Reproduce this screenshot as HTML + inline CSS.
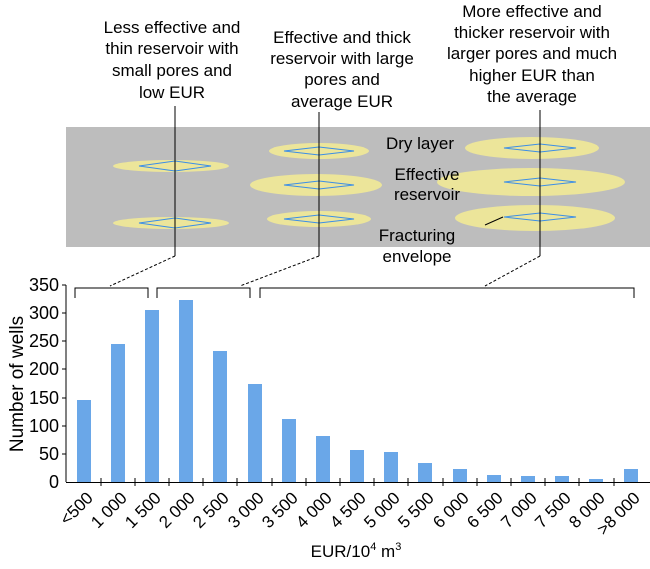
<!DOCTYPE html>
<html><head><style>body{margin:0;background:#fff}</style></head><body>
<svg width="650" height="564" xmlns="http://www.w3.org/2000/svg" font-family="Liberation Sans, Arial, sans-serif">
<rect x="66" y="127" width="584" height="120" fill="#bdbdbd"/>
<g fill="#ece59a">
<ellipse cx="171" cy="166" rx="58" ry="6"/><ellipse cx="171" cy="223" rx="58" ry="6"/>
<ellipse cx="319" cy="151" rx="50" ry="8"/><ellipse cx="316" cy="185" rx="66" ry="11"/><ellipse cx="319" cy="219" rx="52" ry="8"/>
<ellipse cx="532" cy="148" rx="67" ry="11"/><ellipse cx="531" cy="182" rx="94" ry="14"/><ellipse cx="535" cy="218" rx="80" ry="13"/>
</g>
<g fill="none" stroke="#3c8ee6" stroke-width="1">
<polygon points="139,166 175,161 211,166 175,171"/><polygon points="139,223 175,218 211,223 175,228"/>
<polygon points="284,151 319,147 354,151 319,155"/><polygon points="284,185 319,181 354,185 319,189"/><polygon points="284,219 319,215 354,219 319,223"/>
<polygon points="504,148 540,144 576,148 540,152"/><polygon points="504,182 540,178 576,182 540,186"/><polygon points="504,217 540,213 576,217 540,221"/>
</g>
<g stroke="#000" stroke-width="1" fill="none">
<line x1="175" y1="106" x2="175" y2="256"/><line x1="319" y1="112" x2="319" y2="256"/><line x1="540" y1="110" x2="540" y2="256"/>
<g stroke-dasharray="3,2"><line x1="175" y1="256" x2="110" y2="286"/><line x1="319" y1="256" x2="240" y2="286"/><line x1="540" y1="256" x2="485" y2="286"/></g>
<line x1="503" y1="217" x2="485" y2="225"/>
<polyline points="75,298 75,288 148,288 148,298"/><polyline points="157,298 157,288 250,288 250,298"/><polyline points="260,298 260,288 634,288 634,298"/>
</g>
<g font-size="17" fill="#000" text-anchor="middle">
<text x="172" y="33">Less effective and</text><text x="172" y="54">thin reservoir with</text><text x="172" y="76">small pores and</text><text x="172" y="98">low EUR</text>
<text x="342" y="43">Effective and thick</text><text x="342" y="64">reservoir with large</text><text x="342" y="85">pores and</text><text x="342" y="107">average EUR</text>
<text x="532" y="17">More effective and</text><text x="532" y="38">thicker reservoir with</text><text x="532" y="59">larger pores and much</text><text x="532" y="81">higher EUR than</text><text x="532" y="102">the average</text>
<text x="420" y="149">Dry layer</text><text x="427" y="180">Effective</text><text x="427" y="200">reservoir</text>
<text x="417" y="241">Fracturing</text><text x="417" y="262">envelope</text>
</g>
<g fill="#6aa7e8">
<rect x="77" y="400" width="14" height="82"/><rect x="111" y="344" width="14" height="138"/><rect x="145" y="310" width="14" height="172"/><rect x="179" y="300" width="14" height="182"/><rect x="213" y="351" width="14" height="131"/><rect x="248" y="384" width="14" height="98"/><rect x="282" y="419" width="14" height="63"/><rect x="316" y="436" width="14" height="46"/><rect x="350" y="450" width="14" height="32"/><rect x="384" y="452" width="14" height="30"/><rect x="418" y="463" width="14" height="19"/><rect x="453" y="469" width="14" height="13"/><rect x="487" y="475" width="14" height="7"/><rect x="521" y="476" width="14" height="6"/><rect x="555" y="476" width="14" height="6"/><rect x="589" y="479" width="14" height="3"/><rect x="624" y="469" width="14" height="13"/>
</g>
<g stroke="#000" stroke-width="1">
<line x1="66" y1="285" x2="66" y2="482"/><line x1="66" y1="482.5" x2="650" y2="482.5"/>
<line x1="62" y1="285" x2="66" y2="285"/><line x1="62" y1="313" x2="66" y2="313"/><line x1="62" y1="341" x2="66" y2="341"/><line x1="62" y1="369" x2="66" y2="369"/><line x1="62" y1="398" x2="66" y2="398"/><line x1="62" y1="426" x2="66" y2="426"/><line x1="62" y1="454" x2="66" y2="454"/>
<line x1="101" y1="478" x2="101" y2="486"/><line x1="135" y1="478" x2="135" y2="486"/><line x1="169" y1="478" x2="169" y2="486"/><line x1="203" y1="478" x2="203" y2="486"/><line x1="237" y1="478" x2="237" y2="486"/><line x1="272" y1="478" x2="272" y2="486"/><line x1="306" y1="478" x2="306" y2="486"/><line x1="340" y1="478" x2="340" y2="486"/><line x1="374" y1="478" x2="374" y2="486"/><line x1="408" y1="478" x2="408" y2="486"/><line x1="443" y1="478" x2="443" y2="486"/><line x1="477" y1="478" x2="477" y2="486"/><line x1="511" y1="478" x2="511" y2="486"/><line x1="545" y1="478" x2="545" y2="486"/><line x1="579" y1="478" x2="579" y2="486"/><line x1="614" y1="478" x2="614" y2="486"/>
</g>
<g font-size="18" text-anchor="end">
<text x="59" y="291">350</text><text x="59" y="319">300</text><text x="59" y="347">250</text><text x="59" y="375">200</text><text x="59" y="404">150</text><text x="59" y="432">100</text><text x="59" y="460">50</text><text x="59" y="488">0</text>
</g>
<text transform="translate(23,384) rotate(-90)" font-size="19" text-anchor="middle">Number of wells</text>
<g font-size="17" text-anchor="end">
<text transform="translate(94,499) rotate(-45)">&lt;500</text><text transform="translate(128,499) rotate(-45)">1 000</text><text transform="translate(162,499) rotate(-45)">1 500</text><text transform="translate(196,499) rotate(-45)">2 000</text><text transform="translate(230,499) rotate(-45)">2 500</text><text transform="translate(265,499) rotate(-45)">3 000</text><text transform="translate(299,499) rotate(-45)">3 500</text><text transform="translate(333,499) rotate(-45)">4 000</text><text transform="translate(367,499) rotate(-45)">4 500</text><text transform="translate(401,499) rotate(-45)">5 000</text><text transform="translate(435,499) rotate(-45)">5 500</text><text transform="translate(470,499) rotate(-45)">6 000</text><text transform="translate(504,499) rotate(-45)">6 500</text><text transform="translate(538,499) rotate(-45)">7 000</text><text transform="translate(572,499) rotate(-45)">7 500</text><text transform="translate(606,499) rotate(-45)">8 000</text><text transform="translate(641,499) rotate(-45)">&gt;8 000</text>
</g>
<text x="356" y="557" font-size="17" text-anchor="middle">EUR/10<tspan font-size="11" dy="-7">4</tspan><tspan dy="7"> m</tspan><tspan font-size="11" dy="-7">3</tspan></text>
</svg>
</body></html>
